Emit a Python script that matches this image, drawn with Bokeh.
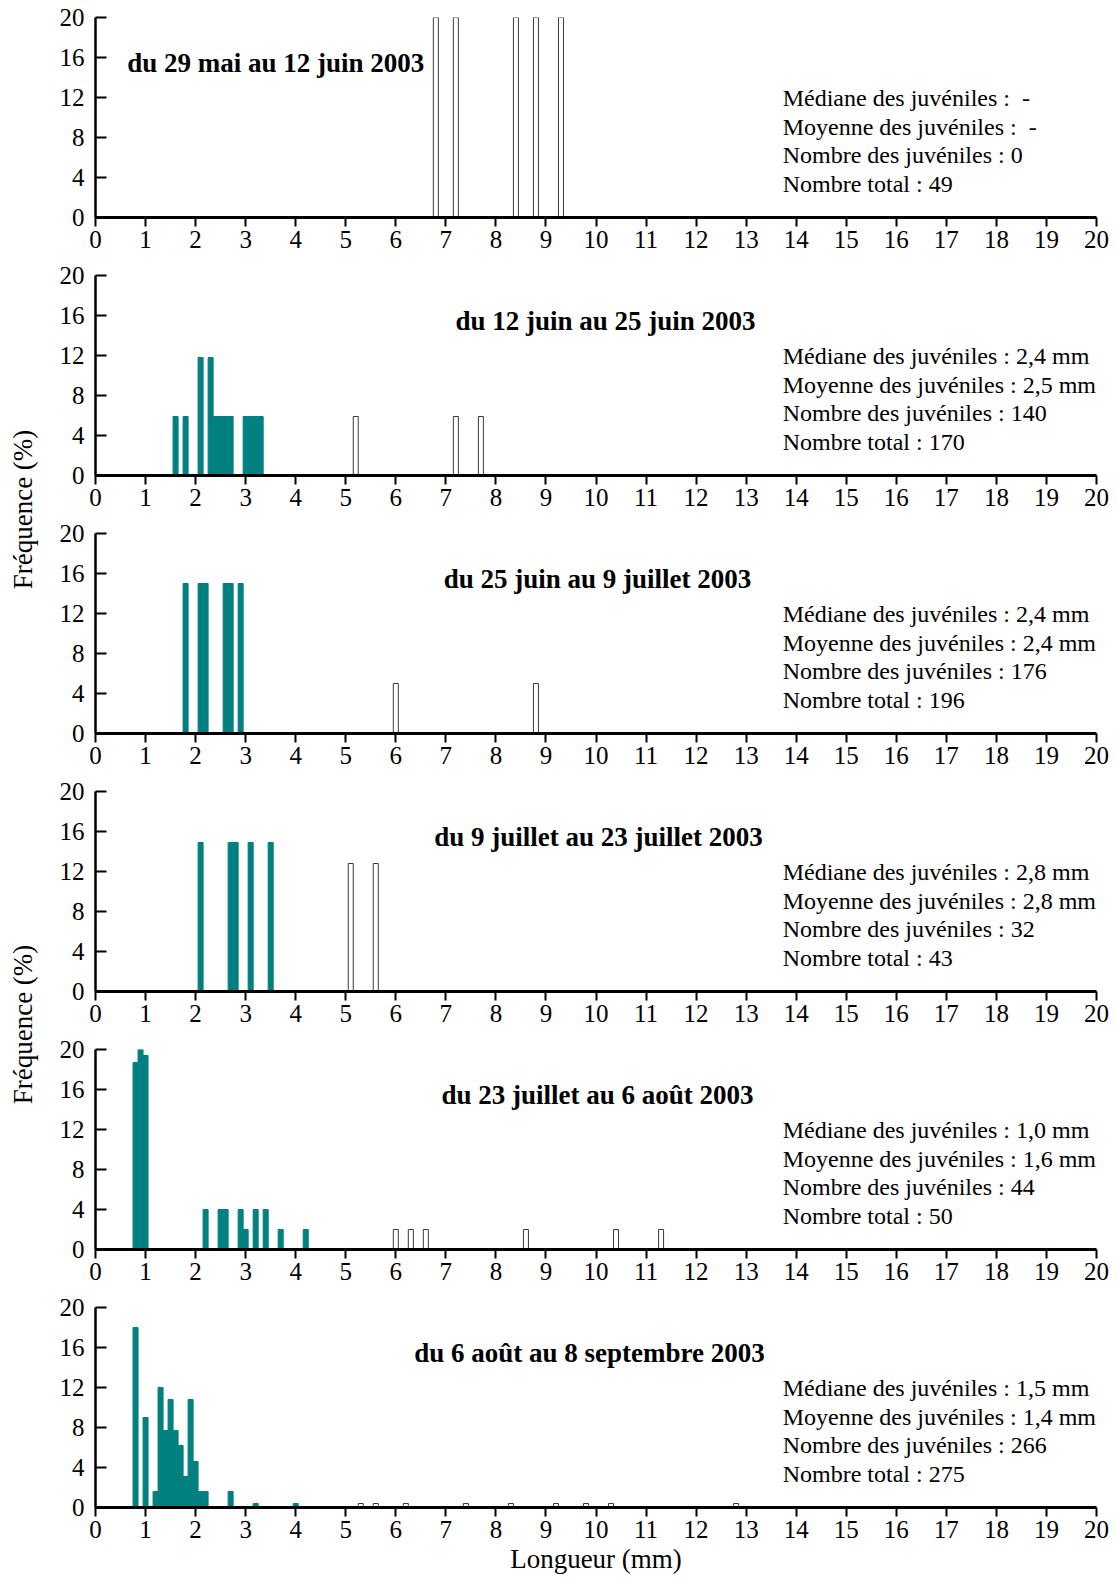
import math
from bokeh.plotting import figure
from bokeh.models import Range1d, FixedTicker
from bokeh.layouts import column, row
from bokeh.embed import file_html
from bokeh.resources import INLINE
from bokeh.core.properties import value

# ---------------- data ----------------
titles = [
    "du 29 mai au 12 juin 2003",
    "du 12 juin au 25 juin 2003",
    "du 25 juin au 9 juillet 2003",
    "du 9 juillet au 23 juillet 2003",
    "du 23 juillet au 6 août 2003",
    "du 6 août au 8 septembre 2003",
]

medianes = ["-", "2,4 mm", "2,4 mm", "2,8 mm", "1,0 mm", "1,5 mm"]
moyennes = ["-", "2,5 mm", "2,4 mm", "2,8 mm", "1,6 mm", "1,4 mm"]
n_juveniles = ["0", "140", "176", "32", "44", "266"]
n_total = ["49", "170", "196", "43", "50", "275"]

# juveniles (teal) : length class (mm) and frequency (%)
juv1_x = []
juv1_f = []
juv2_x = [1.6, 1.8, 2.1, 2.3, 2.4, 2.5, 2.6, 2.7, 3.0, 3.1, 3.2, 3.3]
juv2_f = [5.9, 5.9, 11.8, 11.8, 5.9, 5.9, 5.9, 5.9, 5.9, 5.9, 5.9, 5.9]
juv3_x = [1.8, 2.1, 2.2, 2.6, 2.7, 2.9]
juv3_f = [15.0, 15.0, 15.0, 15.0, 15.0, 15.0]
juv4_x = [2.1, 2.7, 2.8, 3.1, 3.5]
juv4_f = [14.9, 14.9, 14.9, 14.9, 14.9]
juv5_x = [0.8, 0.9, 1.0, 2.2, 2.5, 2.6, 2.9, 3.0, 3.2, 3.4, 3.7, 4.2]
juv5_f = [18.7, 20.0, 19.4, 4.0, 4.0, 4.0, 4.0, 2.0, 4.0, 4.0, 2.0, 2.0]
juv6_x = [0.8, 1.0, 1.2, 1.3, 1.4, 1.5, 1.6, 1.7, 1.8, 1.9, 2.0, 2.1, 2.2, 2.7, 3.2, 4.0]
juv6_f = [18.0, 9.0, 1.6, 12.0, 7.7, 10.8, 7.7, 6.2, 3.1, 10.8, 4.6, 1.6, 1.6, 1.6, 0.4, 0.4]

# adults (white bars)
adu1_x = [6.8, 7.2, 8.4, 8.8, 9.3]
adu1_f = [20.0, 20.0, 20.0, 20.0, 20.0]
adu2_x = [5.2, 7.2, 7.7]
adu2_f = [5.9, 5.9, 5.9]
adu3_x = [6.0, 8.8]
adu3_f = [5.0, 5.0]
adu4_x = [5.1, 5.6]
adu4_f = [12.8, 12.8]
adu5_x = [6.0, 6.3, 6.6, 8.6, 10.4, 11.3]
adu5_f = [2.0, 2.0, 2.0, 2.0, 2.0, 2.0]
adu6_x = [5.3, 5.6, 6.2, 7.4, 8.3, 9.2, 9.8, 10.3, 12.8]
adu6_f = [0.4, 0.4, 0.4, 0.4, 0.4, 0.4, 0.4, 0.4, 0.4]

x_ticks = list(range(0, 21))
y_ticks = [0, 4, 8, 12, 16, 20]
x_label = "Longueur (mm)"
y_label = "Fréquence (%)"

juv_x = [juv1_x, juv2_x, juv3_x, juv4_x, juv5_x, juv6_x]
juv_f = [juv1_f, juv2_f, juv3_f, juv4_f, juv5_f, juv6_f]
adu_x = [adu1_x, adu2_x, adu3_x, adu4_x, adu5_x, adu6_x]
adu_f = [adu1_f, adu2_f, adu3_f, adu4_f, adu5_f, adu6_f]

# ---------------- style ----------------
FONT = "Liberation Serif"
TEAL = "#008080"
title_cx = [3.6, 10.19, 10.03, 10.05, 10.03, 9.87]
title_y = 15.5
stat_x = 13.73
stat_y = [11.95, 9.1, 6.25, 3.4]

panels = []
n = len(titles)
for i in range(n):
    last = i == n - 1
    top_b = 17
    bot_b = 74 if last else 41
    p = figure(width=1077, height=top_b + 200 + bot_b,
               x_range=Range1d(0, 20), y_range=Range1d(0, 20),
               output_backend="svg", toolbar_location=None,
               min_border_left=55, min_border_right=21,
               min_border_top=top_b, min_border_bottom=bot_b,
               background_fill_color="white", border_fill_color="white")
    p.outline_line_color = None
    p.grid.visible = False

    if juv_x[i]:
        p.vbar(x=juv_x[i], top=juv_f[i], bottom=0, width=0.1,
               fill_color=TEAL, line_color=TEAL, line_width=1)
    p.vbar(x=adu_x[i], top=adu_f[i], bottom=0, width=0.1,
           fill_color="white", line_color="#3a3a3a", line_width=1)

    # title
    p.text(x=[title_cx[i]], y=[title_y], text=[titles[i]],
           text_font=value(FONT), text_font_style="bold",
           text_font_size="27px", text_align="center", text_baseline="middle",
           text_color="black")
    # statistics
    lines = [
        "Médiane des juvéniles : " + ("\u00a0" if medianes[i] == "-" else "") + medianes[i],
        "Moyenne des juvéniles : " + ("\u00a0" if moyennes[i] == "-" else "") + moyennes[i],
        "Nombre des juvéniles : " + n_juveniles[i],
        "Nombre total : " + n_total[i],
    ]
    p.text(x=[stat_x] * 4, y=stat_y, text=lines,
           text_font=value(FONT), text_font_size="24px",
           text_align="left", text_baseline="middle", text_color="black")

    # axes
    xa = p.xaxis[0]
    xa.ticker = FixedTicker(ticks=x_ticks)
    xa.minor_tick_line_color = None
    xa.major_tick_in = 0
    xa.major_tick_out = 9
    xa.major_tick_line_width = 2
    xa.major_tick_line_color = "black"
    xa.axis_line_width = 3
    xa.axis_line_color = "black"
    xa.major_label_standoff = 4
    xa.major_label_text_font = FONT
    xa.major_label_text_font_size = "25px"
    xa.major_label_text_color = "black"
    if last:
        xa.axis_label = x_label
        xa.axis_label_text_font = FONT
        xa.axis_label_text_font_size = "27px"
        xa.axis_label_text_font_style = "normal"
        xa.axis_label_text_color = "black"
        xa.axis_label_standoff = 3

    ya = p.yaxis[0]
    ya.ticker = FixedTicker(ticks=y_ticks)
    ya.minor_tick_line_color = None
    ya.major_tick_in = 11
    ya.major_tick_out = 0
    ya.major_tick_line_width = 2
    ya.major_tick_line_color = "black"
    ya.axis_line_width = 2.5
    ya.axis_line_color = "black"
    ya.major_label_standoff = 11
    ya.major_label_text_font = FONT
    ya.major_label_text_font_size = "25px"
    ya.major_label_text_color = "black"

    panels.append(p)

# left strip carrying the rotated y labels
left = figure(width=40, height=1581, x_range=Range1d(0, 40), y_range=Range1d(1581, 0),
              output_backend="svg", toolbar_location=None, min_border=0,
              background_fill_color="white", border_fill_color="white")
left.axis.visible = False
left.grid.visible = False
left.outline_line_color = None
left.text(x=[22, 22], y=[509, 1024], text=[y_label, y_label], angle=math.pi / 2,
          text_font=value(FONT), text_font_size="27px",
          text_align="center", text_baseline="middle", text_color="black")

layout = row(left, column(*panels))
open("out.html", "w").write(file_html(layout, INLINE))
